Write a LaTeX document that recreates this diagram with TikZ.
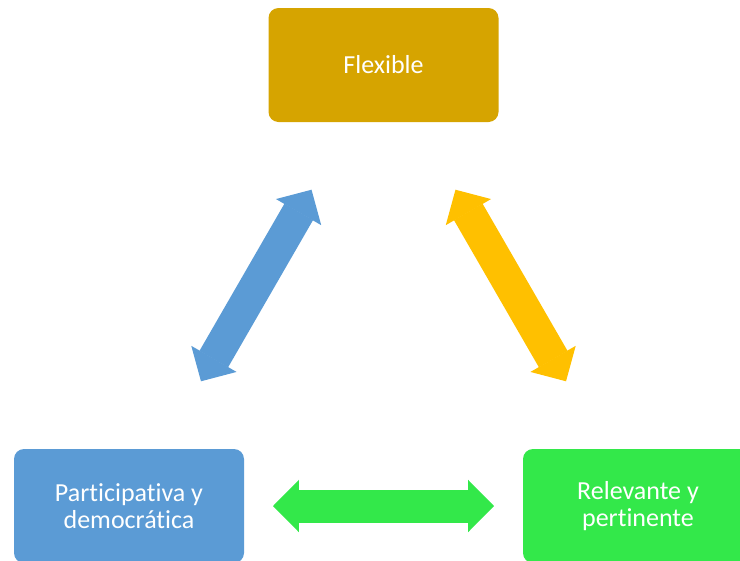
\documentclass[tikz,border=0pt]{standalone}
\usepackage{fontspec}
\setmainfont{Carlito}[Ligatures=NoCommon]
\usetikzlibrary{arrows.meta}

\definecolor{goldbox}{HTML}{D6A400}
\definecolor{bluebox}{HTML}{5B9BD5}
\definecolor{greenbox}{HTML}{33E84A}
\definecolor{yellowarr}{HTML}{FFC000}

\tikzset{
  box/.style={rounded corners=7.5pt, minimum width=172.5pt, minimum height=85.5pt,
    text=white, align=center, inner sep=0pt, font=\fontsize{19.5}{20.6}\selectfont},
  link/.style={line width=24.75pt, shorten <=108pt, shorten >=108pt,
    {Triangle[length=19.4pt,width=39pt,line width=1pt]}-{Triangle[length=19.4pt,width=39pt,line width=1pt]}},
}

\begin{document}
\begin{tikzpicture}[x=0.75pt,y=-0.75pt]
  \useasboundingbox (0,0) rectangle (740,561);
  % the three boxes
  \node[box,fill=goldbox]  (flex) at (383.5,65) {Flexible};
  \node[box,fill=bluebox]  (part) at (129,506)  {Participativa y\\democrática};
  \node[box,fill=greenbox] (rele) at (638,506)  {Relevante y\\pertinente};
  % double arrows between them
  \draw[link,draw=bluebox,fill=bluebox]     (part.center) -- (flex.center);
  \draw[link,draw=yellowarr,fill=yellowarr] (flex.center) -- (rele.center);
  \draw[link,draw=greenbox,fill=greenbox]   (part.center) -- (rele.center);
\end{tikzpicture}
\end{document}
